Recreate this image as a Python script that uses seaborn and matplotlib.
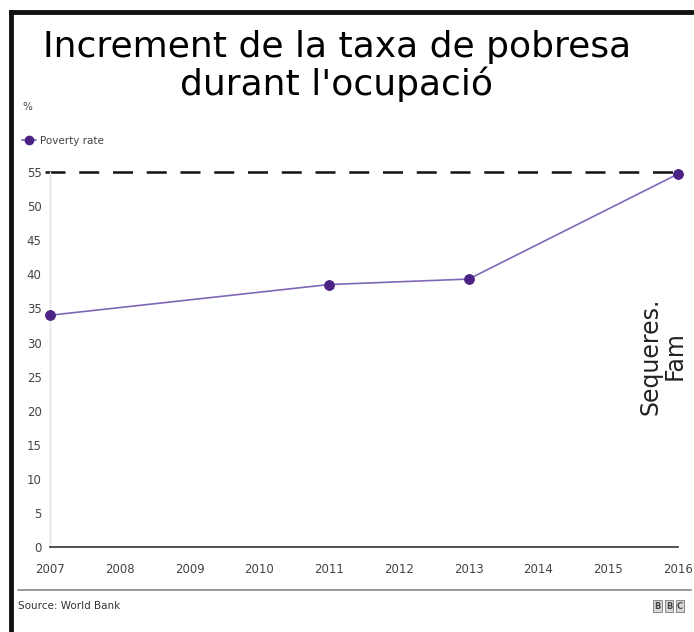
import matplotlib
matplotlib.use("Agg")
import matplotlib.pyplot as plt
import seaborn as sns
import pandas as pd
from matplotlib.lines import Line2D

# Data
years = [2007, 2011, 2013, 2016]
poverty_rate = [34.0, 38.5, 39.3, 54.7]
xticks = list(range(2007, 2017))
yticks = list(range(0, 60, 5))
reference_level = 55

df = pd.DataFrame({"year": years, "rate": poverty_rate})

sns.set_theme(style="white")
plt.rcParams["font.family"] = ["DejaVu Sans"]

fig = plt.figure(figsize=(6.94, 6.32), dpi=100)
ax = fig.add_axes([0.072, 0.134, 0.905, 0.594])

line_col = "#8068b8"
dot_col = "#4b2385"

sns.lineplot(data=df, x="year", y="rate", ax=ax, color=line_col, linewidth=1.2,
             marker="o", markersize=7, markerfacecolor=dot_col,
             markeredgecolor=dot_col, clip_on=False, zorder=3)

ax.axhline(reference_level, xmin=-0.008, xmax=1.0, color="#111111", lw=1.8,
           dashes=(8, 5.5), clip_on=False, zorder=2)

ax.set_xlim(2007, 2016)
ax.set_ylim(0, 55)
ax.set_xticks(xticks)
ax.set_yticks(yticks)
ax.set_xticklabels([str(t) for t in xticks], fontsize=8.5, color="#444444")
ax.set_yticklabels([str(t) for t in yticks], fontsize=8.5, color="#444444")
ax.tick_params(axis="x", length=0, pad=11)
ax.tick_params(axis="y", length=0, pad=6)
ax.set_xlabel("")
ax.set_ylabel("")

for s in ["top", "right"]:
    ax.spines[s].set_visible(False)
ax.spines["left"].set_color("#e3e3e3")
ax.spines["left"].set_linewidth(1)
ax.spines["bottom"].set_color("#333333")
ax.spines["bottom"].set_linewidth(1.2)

# Title
fig.text(0.485, 0.926, "Increment de la taxa de pobresa", ha="center", va="center",
         fontsize=26, color="black")
fig.text(0.485, 0.866, "durant l'ocupació", ha="center", va="center",
         fontsize=26, color="black")

# % label and legend
fig.text(0.032, 0.83, "%", fontsize=7.5, color="#444444", va="center")
handle = Line2D([0], [0], color=line_col, lw=1.3, marker="o", markersize=6,
                markerfacecolor=dot_col, markeredgecolor=dot_col)
leg = fig.legend([handle], ["Poverty rate"], loc="center left",
                 bbox_to_anchor=(0.018, 0.777), frameon=False, fontsize=7.5,
                 handlelength=1.4, handletextpad=0.3)
for t in leg.get_texts():
    t.set_color("#444444")

# Rotated annotation
fig.text(0.955, 0.437, "Sequeres.\nFam", rotation=90, ha="center", va="center",
         fontsize=17, color="#222222", multialignment="center", linespacing=1.0)

# Footer
fig.add_artist(Line2D([0.026, 0.995], [0.066, 0.066], color="#888888", lw=1.2,
                      transform=fig.transFigure))
fig.text(0.026, 0.041, "Source: World Bank", fontsize=7.5, color="#333333", va="center")
for i, letter in enumerate("BBC"):
    fig.text(0.948 + i * 0.016, 0.041, letter, fontsize=6, color="#444444",
             va="center", ha="center", fontweight="bold",
             bbox=dict(boxstyle="square,pad=0.15", fc="#d8d8d8", ec="#777777", lw=0.6))

# Frame lines (left and top)
fig.add_artist(Line2D([0.016, 0.016], [0.0, 0.981], color="#111111", lw=3.5,
                      transform=fig.transFigure, solid_capstyle="projecting"))
fig.add_artist(Line2D([0.016, 1.0], [0.981, 0.981], color="#111111", lw=3.5,
                      transform=fig.transFigure, solid_capstyle="projecting"))

fig.savefig("out.png", dpi=100, facecolor="white")
